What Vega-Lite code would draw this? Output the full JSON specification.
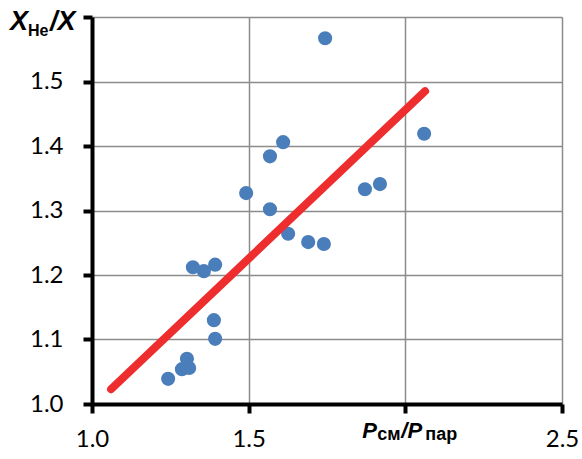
{
  "$schema": "https://vega.github.io/schema/vega-lite/v6.json",
  "autosize": "none",
  "width": 470,
  "height": 387,
  "padding": {"left": 92, "top": 17, "right": 20, "bottom": 55},
  "background": "white",
  "config": {"view": {"stroke": null}, "font": "Lato"},
  "datasets": {
    "points": [
      {"x": 1.744, "y": 1.567},
      {"x": 1.610, "y": 1.406},
      {"x": 1.568, "y": 1.384},
      {"x": 2.060, "y": 1.419},
      {"x": 1.492, "y": 1.327},
      {"x": 1.871, "y": 1.333},
      {"x": 1.919, "y": 1.341},
      {"x": 1.568, "y": 1.302},
      {"x": 1.626, "y": 1.264},
      {"x": 1.690, "y": 1.251},
      {"x": 1.740, "y": 1.248},
      {"x": 1.322, "y": 1.212},
      {"x": 1.357, "y": 1.206},
      {"x": 1.393, "y": 1.216},
      {"x": 1.389, "y": 1.130},
      {"x": 1.393, "y": 1.101},
      {"x": 1.303, "y": 1.070},
      {"x": 1.287, "y": 1.054},
      {"x": 1.310, "y": 1.056},
      {"x": 1.243, "y": 1.039}
    ],
    "fit": [
      {"x": 1.061, "y": 1.023},
      {"x": 2.063, "y": 1.485}
    ]
  },
  "layer": [
    {
      "data": {"name": "points"},
      "mark": {"type": "circle", "size": 200, "color": "#4a7ebb", "opacity": 1},
      "encoding": {
        "x": {
          "field": "x", "type": "quantitative",
          "scale": {"domain": [1.0, 2.5], "nice": false, "zero": false},
          "axis": {
            "values": [1.0, 1.5, 2.0, 2.5],
            "labelExpr": "datum.value > 1.9 && datum.value < 2.1 ? '' : format(datum.value, '.1f')",
            "title": null,
            "domainColor": "black", "domainWidth": 4,
            "tickColor": "black", "tickWidth": 4, "tickSize": 9,
            "gridColor": "#8c8c8c", "gridWidth": 1.5, "gridOpacity": 1,
            "labelFontSize": 24, "labelColor": "black", "labelPadding": 14,
            "labelFont": "Lato", "labelFlush": false
          }
        },
        "y": {
          "field": "y", "type": "quantitative",
          "scale": {"domain": [1.0, 1.6], "nice": false, "zero": false},
          "axis": {
            "values": [1.0, 1.1, 1.2, 1.3, 1.4, 1.5, 1.6],
            "labelExpr": "datum.value > 1.55 ? '' : format(datum.value, '.1f')",
            "title": null,
            "domainColor": "black", "domainWidth": 4,
            "tickColor": "black", "tickWidth": 4, "tickSize": 9,
            "gridColor": "#8c8c8c", "gridWidth": 1.5, "gridOpacity": 1,
            "labelFontSize": 24, "labelColor": "black", "labelPadding": 20,
            "labelFont": "Lato", "labelFlush": false
          }
        }
      }
    },
    {
      "data": {"name": "fit"},
      "mark": {"type": "line", "color": "#ee2e2e", "strokeWidth": 8, "strokeCap": "round"},
      "encoding": {
        "x": {"field": "x", "type": "quantitative"},
        "y": {"field": "y", "type": "quantitative"}
      }
    },
    {
      "data": {"values": [{}]},
      "mark": {"type": "text", "text": "X", "font": "Liberation Sans", "fontSize": 27, "fontWeight": "bold", "fontStyle": "italic", "align": "left", "baseline": "alphabetic", "dx": -82, "dy": 13, "color": "black"},
      "encoding": {"x": {"datum": 1.0}, "y": {"datum": 1.6}}
    },
    {
      "data": {"values": [{}]},
      "mark": {"type": "text", "text": "He", "font": "Liberation Sans", "fontSize": 16, "fontWeight": "bold", "align": "left", "baseline": "alphabetic", "dx": -64, "dy": 19, "color": "black"},
      "encoding": {"x": {"datum": 1.0}, "y": {"datum": 1.6}}
    },
    {
      "data": {"values": [{}]},
      "mark": {"type": "text", "text": "/X", "font": "Liberation Sans", "fontSize": 27, "fontWeight": "bold", "fontStyle": "italic", "align": "left", "baseline": "alphabetic", "dx": -42, "dy": 13, "color": "black"},
      "encoding": {"x": {"datum": 1.0}, "y": {"datum": 1.6}}
    },
    {
      "data": {"values": [{}]},
      "mark": {"type": "text", "text": "P", "font": "Liberation Sans", "fontSize": 22, "fontWeight": "bold", "fontStyle": "italic", "align": "left", "baseline": "alphabetic", "dx": -43, "dy": 34, "color": "black"},
      "encoding": {"x": {"datum": 2.0}, "y": {"datum": 1.0}}
    },
    {
      "data": {"values": [{}]},
      "mark": {"type": "text", "text": "см", "font": "Liberation Sans", "fontSize": 18, "fontWeight": "bold", "align": "left", "baseline": "alphabetic", "dx": -28, "dy": 36, "color": "black"},
      "encoding": {"x": {"datum": 2.0}, "y": {"datum": 1.0}}
    },
    {
      "data": {"values": [{}]},
      "mark": {"type": "text", "text": "/P", "font": "Liberation Sans", "fontSize": 22, "fontWeight": "bold", "fontStyle": "italic", "align": "left", "baseline": "alphabetic", "dx": -4, "dy": 34, "color": "black"},
      "encoding": {"x": {"datum": 2.0}, "y": {"datum": 1.0}}
    },
    {
      "data": {"values": [{}]},
      "mark": {"type": "text", "text": "пар", "font": "Liberation Sans", "fontSize": 18, "fontWeight": "bold", "align": "left", "baseline": "alphabetic", "dx": 20, "dy": 36, "color": "black"},
      "encoding": {"x": {"datum": 2.0}, "y": {"datum": 1.0}}
    }
  ]
}
